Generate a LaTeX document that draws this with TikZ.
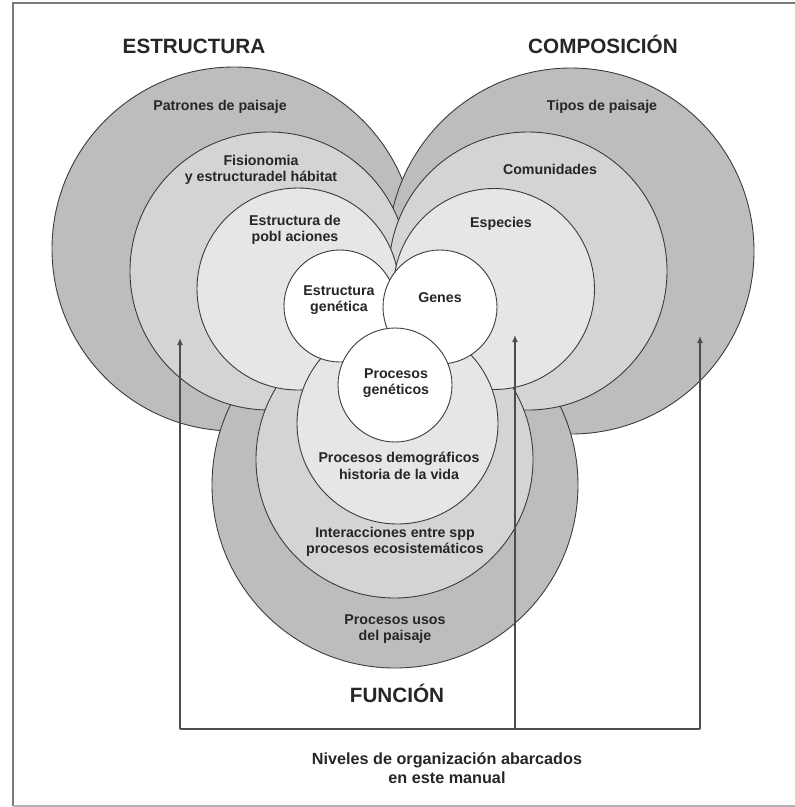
\documentclass[tikz,border=0pt]{standalone}
\usepackage{fontspec}
\setmainfont{Liberation Sans}
\usetikzlibrary{arrows.meta}
\definecolor{ringA}{HTML}{BDBDBF}
\definecolor{ringB}{HTML}{D4D4D6}
\definecolor{ringC}{HTML}{E6E6E8}
\definecolor{edge}{HTML}{3C3C3C}
\definecolor{framec}{HTML}{7A7A7A}
\begin{document}
\begin{tikzpicture}[x=1pt,y=-1pt,
  outerc/.style={fill=ringA,draw=edge,line width=0.9pt},
  midc/.style={fill=ringB,draw=edge,line width=0.9pt},
  innerc/.style={fill=ringC,draw=edge,line width=0.9pt},
  whitec/.style={fill=white,draw=edge,line width=0.9pt},
  lbl/.style={font=\bfseries\fontsize{14.2}{16.5}\selectfont,align=center,text=black!85,inner sep=0pt},
  ttl/.style={font=\bfseries\fontsize{20.7}{24}\selectfont,text=black!85,inner sep=0pt},
  arr/.style={draw=black!70,line width=1.3pt},
  tip/.style={-{Latex[length=7pt,width=6pt]}}]
\useasboundingbox (0,0) rectangle (795,807);
% frame
\draw[framec,line width=2pt] (805,3) -- (13,3) -- (13,806);
\draw[black!30,line width=1.5pt] (13,806) -- (805,806);
% outer layer
\path[outerc] (234,249) circle[radius=182];
\path[outerc] (571,251) circle[radius=183];
\path[outerc] (395,485) circle[radius=183];
% middle layer
\path[midc] (269,271) circle[radius=139];
\path[midc] (528,271) circle[radius=139];
\path[midc] (394.5,459.5) circle[radius=138.5];
% inner layer
\path[innerc] (298,289) circle[radius=101];
\path[innerc] (494,289) circle[radius=100.5];
\path[innerc] (397.5,423.5) circle[radius=100.5];
% white core
\path[whitec] (340,306) circle[radius=56];
\path[whitec] (440,307) circle[radius=57];
\path[whitec] (395,385) circle[radius=57];
% titles
\node[ttl] (testr) at (194,46) {ESTRUCTURA};
\node[ttl] (tcomp) at (603,44) {COMPOSICIÓN};
\node[ttl] (tfunc) at (397,693) {FUNCIÓN};
% labels
\node[lbl] (l1) at (220,107) {Patrones de paisaje};
\node[lbl] (l2) at (261,170) {Fisionomia\\y estructuradel hábitat};
\node[lbl] (l3) at (295,230) {Estructura de\\pobl aciones};
\node[lbl] (l4) at (339,300) {Estructura\\genética};
\node[lbl] (l5) at (440,298) {Genes};
\node[lbl] (l6) at (396,383) {Procesos\\genéticos};
\node[lbl] (r1) at (602,107) {Tipos de paisaje};
\node[lbl] (r2) at (550,169) {Comunidades};
\node[lbl] (r3) at (501,224) {Especies};
\node[lbl] (b1) at (399,466) {Procesos demográficos\\historia de la vida};
\node[lbl] (b2) at (395,542) {Interacciones entre spp\\procesos ecosistemáticos};
\node[lbl] (b3) at (395,629) {Procesos usos\\del paisaje};
\node[lbl,font=\bfseries\fontsize{16.2}{19}\selectfont] (nv) at (447,768) {Niveles de organización abarcados\\en este manual};
% arrows
\coordinate (c1) at (180,729);
\coordinate (c2) at (515,729);
\coordinate (c3) at (700,729);
\coordinate (e1) at (180,338);
\coordinate (e2) at (515,335);
\coordinate (e3) at (700,336);
\draw[arr] (c1) -- (c3);
\draw[arr,tip] (c1) -- (e1);
\draw[arr,tip] (c2) -- (e2);
\draw[arr,tip] (c3) -- (e3);
\end{tikzpicture}
\end{document}
